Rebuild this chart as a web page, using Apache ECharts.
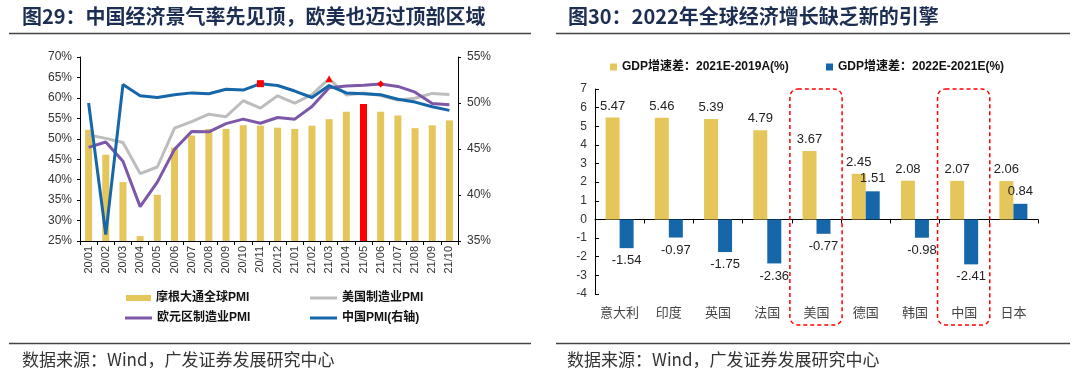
<!DOCTYPE html>
<html><head><meta charset="utf-8">
<script src="https://cdn.jsdelivr.net/npm/echarts@6/dist/echarts.min.js"></script>
<style>html,body{margin:0;padding:0;background:#fff}#c{width:1080px;height:383px}</style>
</head><body><div id="c"></div>
<script>
// ---- Left chart data ----
const months = ['20/01','20/02','20/03','20/04','20/05','20/06','20/07','20/08','20/09','20/10','20/11','20/12',
                '21/01','21/02','21/03','21/04','21/05','21/06','21/07','21/08','21/09','21/10'];
const jpmGlobalPMI = [52.2, 46.1, 39.4, 26.2, 36.3, 47.8, 50.8, 52.4, 52.4, 53.3, 53.2, 52.7,
                      52.4, 53.2, 54.8, 56.6, 58.5, 56.6, 55.7, 52.6, 53.3, 54.5];
const usPMI = [50.9, 50.1, 49.1, 41.5, 43.1, 52.6, 54.2, 56.0, 55.4, 59.3, 57.5, 60.5,
               58.7, 60.8, 64.7, 60.7, 61.2, 60.6, 59.5, 59.9, 61.1, 60.8];
const euroPMI = [47.9, 49.2, 44.5, 33.4, 39.4, 47.4, 51.8, 51.7, 53.7, 54.8, 53.8, 55.2,
                 54.8, 57.9, 62.5, 62.9, 63.1, 63.4, 62.8, 61.4, 58.6, 58.3];
const chinaPMI = [50.0, 35.7, 52.0, 50.8, 50.6, 50.9, 51.1, 51.0, 51.5, 51.4, 52.1, 51.9,
                  51.3, 50.6, 51.9, 51.1, 51.0, 50.9, 50.4, 50.1, 49.6, 49.2];
const redBarMonth = '21/05';
const usPeakMonth = '21/03';
const euroPeakMonth = '21/06';
const chinaPeakMonth = '20/11';

// ---- Right chart data ----
const countries = ['意大利','印度','英国','法国','美国','德国','韩国','中国','日本'];
const gdpDiff21vs19 = [5.47, 5.46, 5.39, 4.79, 3.67, 2.45, 2.08, 2.07, 2.06];
const gdpDiff22vs21 = [-1.54, -0.97, -1.75, -2.36, -0.77, 1.51, -0.98, -2.41, 0.84];
const highlightCountries = ['美国', '中国'];

const FONT = '"Liberation Sans", Arial, "Noto Sans CJK SC", sans-serif';
const CJK = '"Noto Sans CJK SC", "Liberation Sans", sans-serif';
const YELLOW = '#E5C65B', BLUE = '#1666AA', GRAY = '#BDBDBD', PURPLE = '#7D58A9', RED = '#FF0000';

const chart = echarts.init(document.getElementById('c'), null, {renderer: 'canvas'});

const barData = jpmGlobalPMI.map((v, i) => months[i] === redBarMonth ? {value: v, itemStyle: {color: RED}} : v);
const mark = (arr, month, symbol) => arr.map((v, i) => months[i] === month
  ? {value: v, symbol: symbol, symbolSize: 7, itemStyle: {color: RED}} : v);

const legendText = {fontSize: 12, fontWeight: 'bold', color: '#111', fontFamily: FONT};
const lg = (name, left, top, w, h) => ({data: [name], left: left, top: top, padding: 0, icon: 'rect',
  itemWidth: w, itemHeight: h, itemGap: 4, textStyle: legendText, selectedMode: false});

const titleStyle = {fontSize: 20, fontWeight: 'bold', color: '#1c2f52', fontFamily: CJK};

const option = {
  animation: false,
  textStyle: {fontFamily: FONT},
  title: [
    {text: '图29：中国经济景气率先见顶，欧美也迈过顶部区域', left: 22, top: 6, padding: 0, textStyle: titleStyle},
    {text: '图30：2022年全球经济增长缺乏新的引擎', left: 568, top: 6, padding: 0, textStyle: titleStyle}
  ],
  legend: [
    lg('摩根大通全球PMI', 126, 292, 25, 6),
    lg('美国制造业PMI', 310, 292, 27, 3),
    lg('欧元区制造业PMI', 125, 312, 27, 3),
    lg('中国PMI(右轴)', 310, 312, 27, 3),
    lg('GDP增速差：2021E-2019A(%)', 610, 61, 7, 7),
    lg('GDP增速差：2022E-2021E(%)', 826, 61, 7, 7)
  ],
  grid: [
    {left: 80, top: 57, width: 378, height: 184},
    {left: 595, top: 89, width: 443, height: 205}
  ],
  xAxis: [
    {gridIndex: 0, type: 'category', data: months,
     axisLine: {lineStyle: {color: '#000', width: 1}},
     axisTick: {show: true, length: 4, lineStyle: {color: '#000'}},
     axisLabel: {rotate: 90, fontSize: 11, color: '#333', margin: 5, interval: 0}},
    {gridIndex: 1, type: 'category', data: countries, position: 'bottom',
     axisLine: {show: false, onZero: false}, axisTick: {show: false},
     axisLabel: {fontSize: 13, color: '#444', margin: 12, interval: 0, fontFamily: CJK}},
    {gridIndex: 1, type: 'category', data: countries, position: 'top',
     axisLine: {show: true, onZero: true, lineStyle: {color: '#000', width: 1}},
     axisTick: {show: true, inside: true, length: 4, lineStyle: {color: '#000'}},
     axisLabel: {show: false}}
  ],
  yAxis: [
    {gridIndex: 0, type: 'value', min: 25, max: 70, interval: 5, position: 'left',
     axisLine: {show: true, lineStyle: {color: '#000'}}, axisTick: {show: true, length: 3},
     splitLine: {show: false},
     axisLabel: {formatter: '{value}%', fontSize: 12, color: '#333', margin: 8}},
    {gridIndex: 0, type: 'value', min: 35, max: 55, interval: 5, position: 'right',
     axisLine: {show: true, lineStyle: {color: '#000'}}, axisTick: {show: true, length: 3},
     splitLine: {show: false},
     axisLabel: {formatter: '{value}%', fontSize: 12, color: '#333', margin: 9}},
    {gridIndex: 1, type: 'value', min: -4, max: 7, interval: 1,
     axisLine: {show: true, lineStyle: {color: '#000'}},
     axisTick: {show: true, inside: true, length: 4, lineStyle: {color: '#000'}},
     splitLine: {show: false},
     axisLabel: {fontSize: 12, color: '#333', margin: 8}}
  ],
  series: [
    {name: '摩根大通全球PMI', type: 'bar', xAxisIndex: 0, yAxisIndex: 0, barWidth: 7,
     itemStyle: {color: YELLOW}, data: barData},
    {name: '美国制造业PMI', type: 'line', xAxisIndex: 0, yAxisIndex: 0, symbol: 'none', showAllSymbol: true,
     lineStyle: {color: GRAY, width: 3}, itemStyle: {color: GRAY},
     data: mark(usPMI, usPeakMonth, 'triangle')},
    {name: '欧元区制造业PMI', type: 'line', xAxisIndex: 0, yAxisIndex: 0, symbol: 'none', showAllSymbol: true,
     lineStyle: {color: PURPLE, width: 3}, itemStyle: {color: PURPLE},
     data: mark(euroPMI, euroPeakMonth, 'diamond')},
    {name: '中国PMI(右轴)', type: 'line', xAxisIndex: 0, yAxisIndex: 1, symbol: 'none', showAllSymbol: true,
     lineStyle: {color: BLUE, width: 3}, itemStyle: {color: BLUE},
     data: mark(chinaPMI, chinaPeakMonth, 'rect')},
    {name: 'GDP增速差：2021E-2019A(%)', type: 'bar', xAxisIndex: 1, yAxisIndex: 2, barWidth: 14, barGap: '0%',
     itemStyle: {color: YELLOW},
     label: {show: true, position: 'outside', distance: 5, fontSize: 13, color: '#222', fontFamily: FONT},
     data: gdpDiff21vs19},
    {name: 'GDP增速差：2022E-2021E(%)', type: 'bar', xAxisIndex: 1, yAxisIndex: 2, barWidth: 14, barGap: '0%',
     itemStyle: {color: BLUE},
     label: {show: true, position: 'outside', distance: 6, fontSize: 13, color: '#222', fontFamily: FONT},
     data: gdpDiff22vs21}
  ],
  graphic: {elements: [
    {id: 'tl1', type: 'line', shape: {x1: 9, y1: 33.5, x2: 531, y2: 33.5}, style: {stroke: '#444', lineWidth: 1.5}},
    {id: 'tl2', type: 'line', shape: {x1: 556, y1: 33.5, x2: 1070, y2: 33.5}, style: {stroke: '#444', lineWidth: 1.5}},
    {id: 'bl1', type: 'line', shape: {x1: 9, y1: 343.5, x2: 531, y2: 343.5}, style: {stroke: '#444', lineWidth: 1.5}},
    {id: 'bl2', type: 'line', shape: {x1: 556, y1: 343.5, x2: 1070, y2: 343.5}, style: {stroke: '#444', lineWidth: 1.5}},
    {id: 'src1', type: 'text', x: 22, y: 360, style: {text: '数据来源：Wind，广发证券发展研究中心', fill: '#333',
      font: '17px ' + CJK, textVerticalAlign: 'middle'}},
    {id: 'src2', type: 'text', x: 567, y: 360, style: {text: '数据来源：Wind，广发证券发展研究中心', fill: '#333',
      font: '17px ' + CJK, textVerticalAlign: 'middle'}}
  ]}
};
chart.setOption(option);

// Dashed highlight boxes around selected categories, positioned via the chart's own scales
const boxes = highlightCountries.map((name, k) => {
  const idx = countries.indexOf(name);
  const c0 = chart.convertToPixel({xAxisIndex: 1}, countries[0]);
  const c1 = chart.convertToPixel({xAxisIndex: 1}, countries[1]);
  const band = c1 - c0;
  const cx = chart.convertToPixel({xAxisIndex: 1}, countries[idx]);
  const yTop = chart.convertToPixel({yAxisIndex: 2}, 7);
  const yBot = chart.convertToPixel({yAxisIndex: 2}, -4) + 31;
  return {id: 'box' + k, type: 'rect', z: 20,
    shape: {x: cx - band / 2 - 2, y: yTop, width: band + 3, height: yBot - yTop, r: 8},
    style: {fill: 'none', stroke: RED, lineWidth: 1.5, lineDash: [4, 3]}};
});
chart.setOption({graphic: {elements: boxes}});
</script>
</body></html>
